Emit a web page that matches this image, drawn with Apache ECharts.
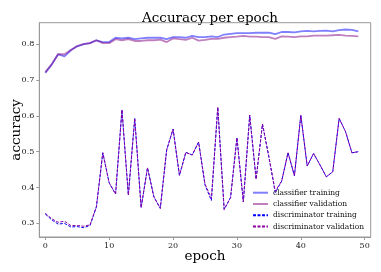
<!DOCTYPE html>
<html><head><meta charset="utf-8">
<script src="https://cdn.jsdelivr.net/npm/echarts@6/dist/echarts.min.js"></script>
<style>html,body{margin:0;padding:0;background:#fff}#c{width:381px;height:272px}</style>
</head><body><div id="c"></div>
<script>
const epochs = [0,1,2,3,4,5,6,7,8,9,10,11,12,13,14,15,16,17,18,19,20,21,22,23,24,25,26,27,28,29,30,31,32,33,34,35,36,37,38,39,40,41,42,43,44,45,46,47,48,49];
const classifierTraining = [0.720,0.743,0.772,0.766,0.783,0.794,0.800,0.803,0.811,0.806,0.806,0.818,0.816,0.818,0.814,0.816,0.818,0.818,0.818,0.814,0.820,0.820,0.818,0.823,0.820,0.820,0.822,0.820,0.827,0.829,0.831,0.831,0.831,0.832,0.832,0.832,0.828,0.834,0.834,0.833,0.836,0.837,0.836,0.837,0.838,0.836,0.839,0.841,0.840,0.836];
const classifierValidation = [0.722,0.744,0.772,0.772,0.784,0.795,0.800,0.803,0.811,0.803,0.803,0.814,0.811,0.814,0.809,0.809,0.811,0.811,0.813,0.806,0.816,0.814,0.812,0.818,0.810,0.812,0.815,0.815,0.818,0.820,0.821,0.823,0.821,0.821,0.820,0.820,0.815,0.822,0.821,0.820,0.822,0.822,0.824,0.824,0.824,0.825,0.826,0.824,0.823,0.822];
const discriminatorTraining = [0.326,0.310,0.298,0.300,0.290,0.291,0.288,0.294,0.346,0.497,0.413,0.382,0.617,0.379,0.593,0.344,0.455,0.374,0.342,0.505,0.563,0.434,0.498,0.491,0.527,0.407,0.364,0.624,0.339,0.372,0.539,0.360,0.602,0.424,0.577,0.485,0.386,0.418,0.497,0.433,0.602,0.460,0.495,0.463,0.430,0.444,0.593,0.556,0.497,0.500];
const discriminatorValidation = [0.328,0.313,0.303,0.306,0.294,0.294,0.292,0.296,0.347,0.497,0.413,0.382,0.617,0.379,0.593,0.344,0.455,0.374,0.342,0.505,0.563,0.434,0.498,0.491,0.527,0.410,0.370,0.624,0.339,0.372,0.539,0.360,0.602,0.423,0.577,0.486,0.390,0.418,0.497,0.433,0.602,0.460,0.495,0.463,0.430,0.444,0.593,0.556,0.497,0.500];
const xTicks = [0,10,20,30,40,50];
const yTicks = [0.3,0.4,0.5,0.6,0.7,0.8];

const pairs = vals => epochs.map((e,i)=>[e, vals[i]]);
const serif = 'DejaVu Serif';
const chart = echarts.init(document.getElementById('c'), null, {renderer:'canvas'});
const mk = (name, vals, color, width, type, opacity) => ({
  name, type:'line', data: pairs(vals), symbol:'none', animation:false,
  lineStyle:{color, width, type, opacity}, itemStyle:{color, opacity}
});
chart.setOption({
  animation:false,
  backgroundColor:'#fff',
  title:{text:'Accuracy per epoch', left:205, textAlign:'center', top:6,
    textStyle:{fontFamily:serif, fontSize:13.5, fontWeight:'normal', color:'#000'}},
  grid:{left:39.3, right:10.3, top:22.7, bottom:35, containLabel:false, outerBoundsMode:'none'},
  legend:{orient:'vertical', left:252, top:188.7, padding:0, itemWidth:15, itemHeight:8, itemGap:3.3,
    itemStyle:{opacity:0, borderWidth:0},
    textStyle:{fontFamily:serif, fontSize:7.5, color:'#111'},
    data:['classifier training','classifier validation','discriminator training','discriminator validation']},
  xAxis:{type:'value', min:-0.94, max:50.94,
    name:'epoch', nameLocation:'middle', nameGap:12, nameMoveOverlap:false,
    nameTextStyle:{fontFamily:serif, fontSize:13.5, color:'#000', verticalAlign:'top'},
    axisLine:{show:true, onZero:false, lineStyle:{color:'#999', width:1}},
    axisTick:{show:true, length:3, lineStyle:{color:'#999'}, customValues:xTicks},
    axisLabel:{fontFamily:serif, fontSize:8, color:'#222', margin:5, customValues:xTicks},
    splitLine:{show:false}},
  yAxis:{type:'value', min:0.262, max:0.860,
    name:'accuracy', nameLocation:'middle', nameGap:16, nameRotate:90, nameMoveOverlap:false,
    nameTextStyle:{fontFamily:serif, fontSize:13.5, color:'#000'},
    axisLine:{show:true, onZero:false, lineStyle:{color:'#999', width:1}},
    axisTick:{show:true, length:3, lineStyle:{color:'#999'}, customValues:yTicks},
    axisLabel:{fontFamily:serif, fontSize:8, color:'#222', margin:5, customValues:yTicks,
      formatter: v => v.toFixed(1)},
    splitLine:{show:false}},
  graphic:[{type:'rect', shape:{x:39.3, y:22.7, width:331.4, height:214.3},
    style:{fill:'none', stroke:'#999', lineWidth:1}, silent:true, z:-1}],
  series:[
    mk('classifier training', classifierTraining, '#0000ff', 1.8, 'solid', 0.5),
    mk('classifier validation', classifierValidation, '#800080', 1.8, 'solid', 0.5),
    mk('discriminator training', discriminatorTraining, '#0000ff', 1, [3,1.5], 1),
    mk('discriminator validation', discriminatorValidation, '#9000a0', 1, [3,1.5], 1)
  ]
});
</script></body></html>
